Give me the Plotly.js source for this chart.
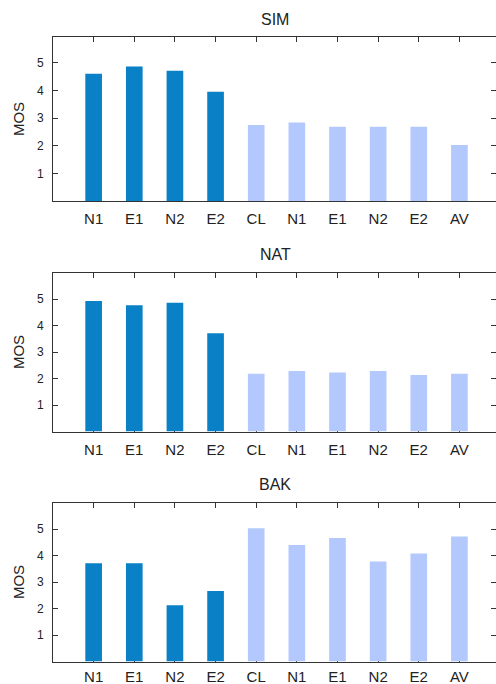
<!DOCTYPE html>
<html>
<head>
<meta charset="utf-8">
<script src="https://cdn.plot.ly/plotly-3.0.1.min.js"></script>
<style>html,body{margin:0;padding:0;background:#fff;}#chart{width:496px;height:684px;}</style>
</head>
<body>
<div id="chart"></div>
<script>
// Data
const categories = ["N1","E1","N2","E2","CL","N1","E1","N2","E2","AV"];
const groups = ["dark","dark","dark","dark","light","light","light","light","light","light"];
const panelTitles = ["SIM","NAT","BAK"];
const simValues = [4.61,4.87,4.72,3.96,2.75,2.84,2.69,2.69,2.69,2.03];
const natValues = [4.92,4.76,4.86,3.71,2.18,2.28,2.23,2.28,2.13,2.18];
const bakValues = [3.71,3.71,2.12,2.66,5.03,4.40,4.66,3.77,4.08,4.72];
const yTickVals = [1,2,3,4,5];

const groupColors = {dark:"#0a80c6", light:"#b3c8fc"};
const xs = categories.map((c,i)=>i+1);
const colors = groups.map(g=>groupColors[g]);
const series = [simValues, natValues, bakValues];
const W = 496, H = 684;
const panels = [
  {top:37, bottom:201, ymax:5.94, titleY:19, standoff:4},
  {top:272.5, bottom:431.5, ymax:6.0, titleY:255, standoff:4},
  {top:502.5, bottom:661.5, ymax:6.0, titleY:485, standoff:1}
];

const data = [];
const layout = {
  width: W, height: H,
  margin: {l:53, r:0, t:0, b:0, pad:0},
  paper_bgcolor:"#fff", plot_bgcolor:"#fff",
  showlegend:false,
  font:{family:"Liberation Sans, Arial, sans-serif", color:"#222"},
  annotations: []
};

series.forEach((vals, k)=>{
  const n = k===0 ? "" : String(k+1);
  data.push({
    type:"bar", x: xs, y: vals,
    xaxis:"x"+n, yaxis:"y"+n,
    width:0.41,
    marker:{color: colors, line:{width:0}},
    hoverinfo:"skip"
  });
  const p = panels[k];
  layout["xaxis"+n] = {
    anchor:"y"+n, domain:[0,1], range:[0,10.9],
    tickmode:"array", tickvals: xs, ticktext: categories,
    ticks:"inside", ticklen:5, tickwidth:1, tickcolor:"#333",
    showline:true, linecolor:"#333", linewidth:1, mirror:"ticks",
    showgrid:false, zeroline:false, layer:"below traces",
    tickfont:{size:15, color:"#222"}, ticklabelstandoff:p.standoff
  };
  layout["yaxis"+n] = {
    anchor:"x"+n, domain:[1-p.bottom/H, 1-p.top/H], range:[0,p.ymax],
    tickmode:"array", tickvals: yTickVals,
    ticks:"inside", ticklen:5, tickwidth:1, tickcolor:"#333",
    showline:true, linecolor:"#333", linewidth:1, mirror:"ticks",
    showgrid:false, zeroline:false,
    tickfont:{size:12, color:"#222"}, ticklabelstandoff:6,
    title:{text:"MOS", font:{size:15, color:"#222"}, standoff:8}
  };
  layout.annotations.push({
    text: panelTitles[k], xref:"paper", yref:"paper",
    x: (275-53)/443, y: 1-p.titleY/H, xanchor:"center", yanchor:"middle",
    showarrow:false, font:{size:16, color:"#222"}
  });
});

Plotly.newPlot("chart", data, layout, {staticPlot:true, displayModeBar:false});
</script>
</body>
</html>
